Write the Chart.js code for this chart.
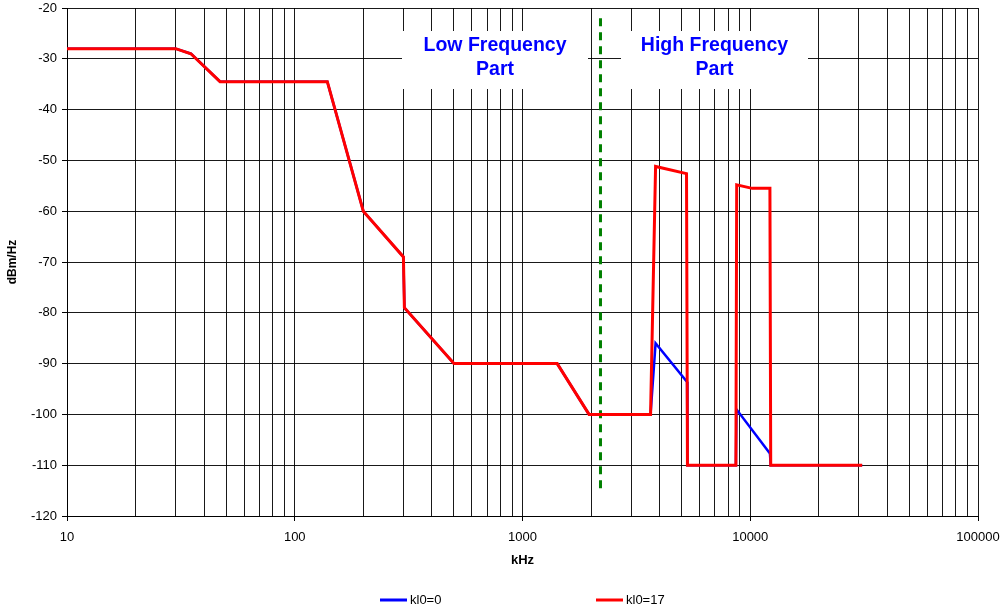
<!DOCTYPE html>
<html>
<head>
<meta charset="utf-8">
<script src="https://cdn.jsdelivr.net/npm/chart.js@4/dist/chart.umd.min.js"></script>
<style>
html,body{margin:0;padding:0;background:#fff;}
#wrap{width:1006px;height:609px;position:relative;}
</style>
</head>
<body>
<div id="wrap"><canvas id="c" width="1006" height="609"></canvas></div>
<script>
// ---- data (frequency in kHz, PSD in dBm/Hz) ----
const freqRed  = [10, 30, 35, 47, 139, 200, 300, 303, 500, 1420, 1960, 3650, 3840, 5250, 5300, 8650, 8720, 10200, 12200, 12300, 31000];
const psdRed   = [-28, -28, -29, -34.5, -34.5, -60, -69, -79, -90, -90, -100, -100, -51.2, -52.6, -110, -110, -54.8, -55.5, -55.5, -110, -110];
const freqBlue = [10, 30, 35, 47, 139, 200, 300, 303, 500, 1420, 1960, 3650, 3840, 5280, 5300, 8650, 8700, 12200, 12300, 31000];
const psdBlue  = [-28, -28, -29, -34.5, -34.5, -60, -69, -79, -90, -90, -100, -100, -86, -93.6, -110, -110, -99, -107.7, -110, -110];
const splitFreq  = [2200, 2200];
const splitLevel = [-22, -115];
const seriesNames = ['kl0=0', 'kl0=17'];
const xTickLabels = [10, 100, 1000, 10000, 100000];
const yTickLabels = [-120, -110, -100, -90, -80, -70, -60, -50, -40, -30, -20];
const regionLabels = [['Low Frequency', 'Part'], ['High Frequency', 'Part']];

const toPts = (xs, ys) => xs.map((x, i) => ({x: x, y: ys[i]}));
const FONT = 'Arial, "Liberation Sans", Helvetica, sans-serif';

const overlay = {
  id: 'overlay',
  beforeDatasetsDraw(chart) {
    const ctx = chart.ctx;
    ctx.save();
    const boxes = [[402, 31, 186, 58], [621, 31, 187, 58]];
    boxes.forEach((b, i) => {
      ctx.fillStyle = '#fff';
      ctx.fillRect(b[0], b[1], b[2], b[3]);
      ctx.fillStyle = '#0000ff';
      ctx.font = 'bold 19.5px ' + FONT;
      ctx.textAlign = 'center';
      ctx.textBaseline = 'middle';
      const cx = b[0] + b[2] / 2;
      ctx.fillText(regionLabels[i][0], cx, 46);
      ctx.fillText(regionLabels[i][1], cx, 70);
    });
    ctx.restore();
  },
  afterDraw(chart) {
    const ctx = chart.ctx;
    ctx.save();
    const items = [[380, '#0000ff', seriesNames[0]], [596, '#ff0000', seriesNames[1]]];
    items.forEach(it => {
      ctx.strokeStyle = it[1];
      ctx.lineWidth = 3;
      ctx.beginPath();
      ctx.moveTo(it[0], 600);
      ctx.lineTo(it[0] + 27, 600);
      ctx.stroke();
      ctx.fillStyle = '#000';
      ctx.font = '13px ' + FONT;
      ctx.textAlign = 'left';
      ctx.textBaseline = 'middle';
      ctx.fillText(it[2], it[0] + 30, 600);
    });
    ctx.restore();
  }
};

function zeroPad(scale) {
  scale.paddingTop = 0; scale.paddingBottom = 0;
  scale.paddingLeft = 0; scale.paddingRight = 0;
}

new Chart(document.getElementById('c'), {
  type: 'line',
  data: {
    datasets: [
      {label: seriesNames[1], data: toPts(freqRed, psdRed), borderColor: '#ff0000', borderWidth: 3, order: 0},
      {label: seriesNames[0], data: toPts(freqBlue, psdBlue), borderColor: '#0000ff', borderWidth: 2.5, order: 1},
      {label: 'split', data: toPts(splitFreq, splitLevel), borderColor: '#008000', borderWidth: 3, borderDash: [8, 6], order: 2}
    ]
  },
  options: {
    responsive: false,
    animation: false,
    layout: {padding: {left: 0, right: 28, top: 8, bottom: 0}},
    elements: {point: {radius: 0}, line: {tension: 0, fill: false, borderJoinStyle: 'miter', borderCapStyle: 'butt'}},
    plugins: {legend: {display: false}, tooltip: {enabled: false}},
    scales: {
      x: {
        type: 'logarithmic',
        min: 10, max: 100000,
        afterBuildTicks(scale) {
          const t = [];
          for (let e = 1; e < 5; e++) {
            for (let m = 1; m < 10; m++) t.push({value: m * Math.pow(10, e)});
          }
          t.push({value: 100000});
          scale.ticks = t;
        },
        afterFit(scale) { scale.height = 93; zeroPad(scale); },
        ticks: {
          autoSkip: false, maxRotation: 0, padding: 9,
          color: '#000', font: {size: 13, family: FONT},
          callback(v) { return xTickLabels.includes(v) ? String(v) : ''; }
        },
        grid: {
          color: 'rgba(0,0,0,0.9)', lineWidth: 1, tickLength: 5,
          tickColor(ctx) { return (ctx.tick && xTickLabels.includes(ctx.tick.value)) ? '#000' : 'rgba(0,0,0,0)'; }
        },
        border: {display: true, color: '#000', width: 1},
        title: {display: true, text: 'kHz', color: '#000', font: {size: 13, weight: 'bold', family: FONT}, padding: {top: 0, bottom: 41}}
      },
      y: {
        type: 'linear',
        min: -120, max: -20,
        afterBuildTicks(scale) { scale.ticks = yTickLabels.map(v => ({value: v})); },
        afterFit(scale) { scale.width = 67; zeroPad(scale); },
        ticks: {padding: 5, color: '#000', font: {size: 13, family: FONT}},
        grid: {color: 'rgba(0,0,0,0.9)', lineWidth: 1, tickLength: 5, tickColor: '#000'},
        border: {display: true, color: '#000', width: 1},
        title: {display: true, text: 'dBm/Hz', color: '#000', font: {size: 12, weight: 'bold', family: FONT}, padding: {top: 5, bottom: 0}}
      }
    }
  },
  plugins: [overlay]
});
</script>
</body>
</html>
